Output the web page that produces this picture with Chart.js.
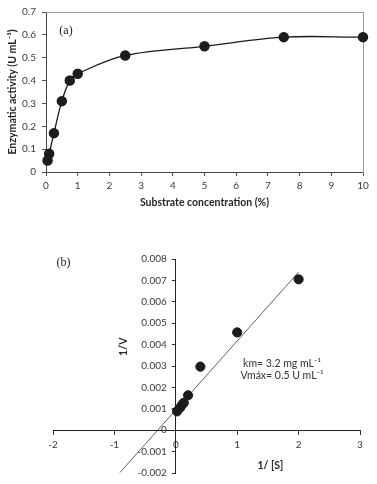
<!DOCTYPE html>
<html><head><meta charset="utf-8">
<script src="https://cdn.jsdelivr.net/npm/chart.js@4/dist/chart.umd.min.js"></script>
<style>
html,body{margin:0;padding:0;background:#fff;}
body{width:377px;height:484px;position:relative;overflow:hidden;}
#wa{position:absolute;left:0;top:0;width:377px;height:215px;}
#wb{position:absolute;left:0;top:230px;width:377px;height:254px;}
</style></head><body>
<div id="wa"><canvas id="ca"></canvas></div>
<div id="wb"><canvas id="cb"></canvas></div>
<script>
// ---- Panel (a) data ----
const substrateConc = [0.05, 0.1, 0.25, 0.5, 0.75, 1, 2.5, 5, 7.5, 10];
const enzymeActivity = [0.05, 0.08, 0.17, 0.31, 0.40, 0.43, 0.51, 0.55, 0.59, 0.59];
const xTicksA = [0, 1, 2, 3, 4, 5, 6, 7, 8, 9, 10];
const yTicksA = [0, 0.1, 0.2, 0.3, 0.4, 0.5, 0.6, 0.7];
// ---- Panel (b) data (Lineweaver-Burk) ----
const invS = [0.02, 0.07, 0.1, 0.13, 0.2, 0.4, 1, 2];
const invV = [0.00088, 0.00105, 0.00118, 0.00128, 0.00163, 0.00297, 0.00457, 0.00705];
const fitX = [-0.91, 2.0];
const fitY = [-0.00198, 0.00739];
const xTicksB = [-2, -1, 0, 1, 2, 3];
const yTicksB = [-0.002, -0.001, 0, 0.001, 0.002, 0.003, 0.004, 0.005, 0.006, 0.007, 0.008];

const FONT = 'Lato';
const TICK = 10;
const TITLE = 10.5;
const tickColor = '#3a3a3a';
const titleColor = '#262626';
const markColor = '#1c1c1c';
const setTicks = arr => s => { s.ticks = arr.map(v => ({ value: v })); };
const fmtB = v => v === 0 ? '0' : (Number.isInteger(v) ? String(v) : v.toFixed(3));

// ---------- Chart (a) ----------
const labelA = {
  id: 'labelA',
  afterDraw(chart) {
    const { ctx, chartArea } = chart;
    ctx.save();
    ctx.font = '12px "Liberation Serif"';
    ctx.fillStyle = '#222';
    ctx.textAlign = 'center';
    ctx.textBaseline = 'middle';
    ctx.fillText('(a)', chartArea.left + 20, chartArea.top + 19);
    ctx.restore();
  }
};

new Chart(document.getElementById('ca'), {
  type: 'line',
  data: {
    datasets: [{
      data: substrateConc.map((x, i) => ({ x, y: enzymeActivity[i] })),
      borderColor: '#1a1a1a',
      borderWidth: 1.3,
      backgroundColor: markColor,
      pointBackgroundColor: markColor,
      pointBorderColor: markColor,
      pointRadius: 4.6,
      pointHoverRadius: 4.6,
      tension: 0.35,
      fill: false,
      clip: false
    }]
  },
  options: {
    responsive: true,
    maintainAspectRatio: false,
    animation: false,
    events: [],
    layout: { padding: { left: 0, top: 8, right: 14, bottom: 0 } },
    plugins: { legend: { display: false }, tooltip: { enabled: false } },
    scales: {
      x: {
        type: 'linear', min: 0, max: 10,
        afterBuildTicks: setTicks(xTicksA),
        afterFit: s => { s.height = 43; },
        grid: { display: true, drawOnChartArea: false, drawTicks: true, tickLength: 4, color: '#555' },
        border: { display: true, color: '#444', width: 1 },
        ticks: { color: tickColor, font: { family: FONT, size: TICK }, padding: 4, maxRotation: 0 },
        title: { display: true, text: 'Substrate concentration (%)', color: titleColor,
                 font: { family: FONT, size: TITLE, weight: 'bold' }, padding: { top: 0, bottom: 6 } }
      },
      y: {
        type: 'linear', min: 0, max: 0.7,
        afterBuildTicks: setTicks(yTicksA),
        afterFit: s => { s.width = 46; },
        grid: { display: true, drawOnChartArea: false, drawTicks: true, tickLength: 4, color: '#555' },
        border: { display: true, color: '#444', width: 1 },
        ticks: { color: tickColor, font: { family: FONT, size: TICK }, padding: 6,
                 callback: v => String(Math.round(v * 10) / 10) },
        title: { display: true, text: 'Enzymatic activity (U mL\u207B\u00B9)', color: titleColor,
                 font: { family: FONT, size: TITLE, weight: 'bold' }, padding: { top: 6, bottom: 0 } }
      },
      x2: {
        type: 'linear', position: 'top', min: 0, max: 10,
        afterFit: s => { s.height = 0; },
        grid: { display: false, drawTicks: false },
        ticks: { display: false },
        border: { display: true, color: '#9a9a9a', width: 1 }
      },
      y2: {
        type: 'linear', position: 'right', min: 0, max: 0.7,
        afterFit: s => { s.width = 0; },
        grid: { display: false, drawTicks: false },
        ticks: { display: false },
        border: { display: true, color: '#9a9a9a', width: 1 }
      }
    }
  },
  plugins: [labelA]
});

// ---------- Chart (b) ----------
// move the value axis so that it crosses the category axis at 1/[S] = 0
const crossAtZero = {
  id: 'crossAtZero',
  afterLayout(chart) {
    const ys = chart.scales.y;
    const px = chart.scales.x.getPixelForValue(0);
    ys.right = px;
    ys.left = px - 60;
    ys.width = 60;
  }
};

const labelB = {
  id: 'labelB',
  afterDraw(chart) {
    const { ctx } = chart;
    const xs = chart.scales.x, ys = chart.scales.y;
    ctx.save();
    ctx.textAlign = 'center';
    ctx.textBaseline = 'middle';
    // (b)
    ctx.font = '12px "Liberation Serif"';
    ctx.fillStyle = '#222';
    ctx.fillText('(b)', xs.getPixelForValue(-1.83), ys.getPixelForValue(0.00782));
    // axis titles
    ctx.fillStyle = titleColor;
    ctx.font = 'bold ' + TITLE + 'px ' + FONT;
    ctx.fillText('1/ [S]', xs.getPixelForValue(1.54), ys.getPixelForValue(-0.00165));
    ctx.save();
    ctx.translate(xs.getPixelForValue(0) - 52, ys.getPixelForValue(0.0039));
    ctx.rotate(-Math.PI / 2);
    ctx.fillText('1/V', 0, 0);
    ctx.restore();
    // kinetic constants
    ctx.font = '10.5px ' + FONT;
    ctx.fillStyle = '#333';
    ctx.fillText('km= 3.2 mg mL\u207B\u00B9', xs.getPixelForValue(1.73), ys.getPixelForValue(0.00311));
    ctx.fillText('Vm\u00E1x= 0.5 U mL\u207B\u00B9', xs.getPixelForValue(1.73), ys.getPixelForValue(0.00257));
    ctx.restore();
  }
};

new Chart(document.getElementById('cb'), {
  type: 'scatter',
  data: {
    datasets: [
      {
        type: 'line',
        data: fitX.map((x, i) => ({ x, y: fitY[i] })),
        borderColor: '#3a3a3a',
        borderWidth: 0.8,
        pointRadius: 0,
        fill: false,
        clip: false,
        order: 2
      },
      {
        data: invS.map((x, i) => ({ x, y: invV[i] })),
        backgroundColor: markColor,
        borderColor: markColor,
        pointRadius: 4.6,
        pointHoverRadius: 4.6,
        clip: false,
        order: 1
      }
    ]
  },
  options: {
    responsive: true,
    maintainAspectRatio: false,
    animation: false,
    events: [],
    layout: { padding: { left: 53, top: 29, right: 17, bottom: 8 } },
    plugins: { legend: { display: false }, tooltip: { enabled: false } },
    scales: {
      x: {
        type: 'linear', min: -2, max: 3,
        position: { y: 0 },
        afterBuildTicks: setTicks(xTicksB),
        afterFit: s => { s.height = 0; },
        grid: { display: true, drawOnChartArea: false, drawTicks: true, tickLength: 4, color: '#333' },
        border: { display: true, color: '#222', width: 1 },
        ticks: { color: tickColor, font: { family: FONT, size: TICK }, padding: 5, maxRotation: 0, callback: fmtB }
      },
      y: {
        type: 'linear', min: -0.002, max: 0.008,
        position: 'left',
        afterBuildTicks: setTicks(yTicksB),
        afterFit: s => { s.width = 0; },
        grid: { display: true, drawOnChartArea: false, drawTicks: true, tickLength: 4, color: '#333' },
        border: { display: true, color: '#222', width: 1 },
        ticks: { color: tickColor, font: { family: FONT, size: TICK }, padding: 5, callback: fmtB }
      }
    }
  },
  plugins: [crossAtZero, labelB]
});
</script>
</body></html>
